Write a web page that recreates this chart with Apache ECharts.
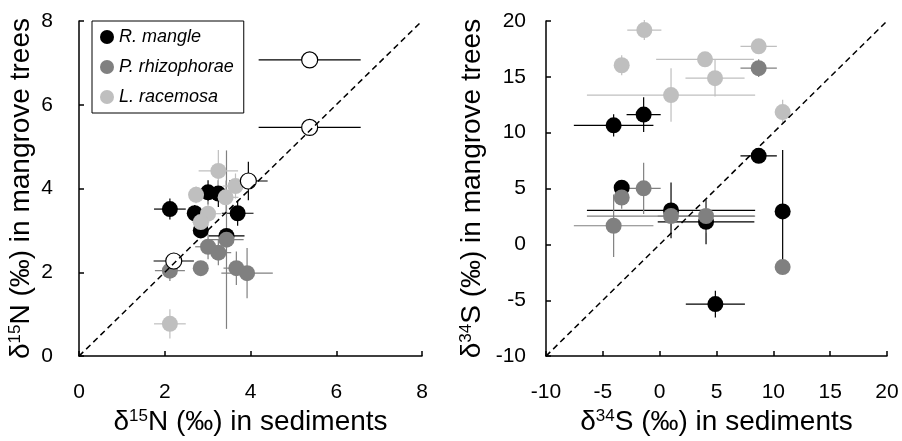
<!DOCTYPE html>
<html><head><meta charset="utf-8">
<script src="https://cdn.jsdelivr.net/npm/echarts@6/dist/echarts.min.js"></script>
<style>html,body{margin:0;padding:0;background:#fff}#c{width:902px;height:441px}</style>
</head><body><div id="c"></div>
<script>
// ---------- data ----------
const speciesNames = ['R. mangle', 'P. rhizophorae', 'L. racemosa'];

// Left panel: δ15N sediments (x) vs mangrove trees (y)
const nMangleX    = [2.12, 2.70, 3.01, 3.25, 3.70, 2.84, 3.44];
const nMangleY    = [3.51, 3.41, 3.91, 3.88, 3.41, 3.00, 2.87];
const nMangleXerr = [0.37, 0.15, 0.15, 0.20, 0.37, 0.10, 0.42];
const nMangleYerr = [0.25, 0.20, 0.29, 0.32, 0.30, 0.15, 0.15];

const nRhizoX     = [2.12, 2.84, 3.01, 3.25, 3.44, 3.67, 3.92];
const nRhizoY     = [2.04, 2.10, 2.61, 2.47, 2.78, 2.10, 1.98];
const nRhizoXerr  = [0.35, 0.10, 0.30, 0.30, 0.40, 0.30, 0.60];
const nRhizoYerr  = [0.25, 0.10, 0.30, 0.30, 2.13, 0.40, 0.60];

const nRacemX     = [2.12, 2.73, 3.25, 3.01, 2.84, 3.42, 3.65];
const nRacemY     = [0.77, 3.85, 4.42, 3.40, 3.20, 3.79, 4.06];
const nRacemXerr  = [0.37, 0.15, 0.46, 0.30, 0.20, 0.30, 0.30];
const nRacemYerr  = [0.35, 0.20, 0.50, 0.30, 0.30, 0.40, 0.30];

const nOpenX      = [5.38, 5.38, 3.95, 2.21];
const nOpenY      = [7.07, 5.46, 4.18, 2.27];
const nOpenXerr   = [1.19, 1.19, 0.45, 0.47];
const nOpenYerr   = [0.00, 0.00, 0.46, 0.00];

// Right panel: δ34S sediments (x) vs mangrove trees (y)
const sMangleX    = [-4.05, -1.41, -3.34, 1.00, 4.08, 8.71, 10.82, 4.90];
const sMangleY    = [10.66, 11.62, 5.07, 3.04, 2.02, 7.93, 2.95, -5.34];
const sMangleXerr = [3.5, 1.5, 0.5, 7.4, 4.25, 1.6, 0.3, 2.6];
const sMangleYerr = [1.0, 1.55, 0.5, 2.5, 2.0, 0.5, 5.5, 1.2];

const sRhizoX     = [8.71, -3.34, -1.41, -4.05, 1.00, 4.08, 10.82];
const sRhizoY     = [15.78, 4.20, 5.02, 1.67, 2.54, 2.54, -2.03];
const sRhizoXerr  = [1.6, 0.4, 1.5, 3.5, 7.4, 4.25, 0.3];
const sRhizoYerr  = [0.8, 1.0, 2.3, 2.8, 0.5, 1.5, 0.5];

const sRacemX     = [-1.35, -3.34, 3.99, 4.87, 1.00, 8.71, 10.82];
const sRacemY     = [19.19, 16.04, 16.57, 14.88, 13.37, 17.73, 11.85];
const sRacemXerr  = [1.5, 0.3, 4.3, 2.6, 7.4, 1.6, 0.3];
const sRacemYerr  = [0.9, 0.9, 0.3, 1.65, 2.4, 0.4, 1.1];

const nTicks = [0, 8, 2];
const sTicks = [-10, 20, 5];

// ---------- build ----------
const COLORS = ['#000000', '#808080', '#bfbfbf'];
const FONT = 'Liberation Sans, Arial, sans-serif';

function zip(x, y, ex, ey) { return x.map((v, i) => [v, y[i], ex[i], ey[i]]); }

function errSeries(data, color, axisIdx) {
  return {
    type: 'custom', xAxisIndex: axisIdx, yAxisIndex: axisIdx, z: 2, silent: true,
    data: data,
    renderItem: function (params, api) {
      const x = api.value(0), y = api.value(1), ex = api.value(2), ey = api.value(3);
      const ch = [];
      const st = { stroke: color, lineWidth: 1.2 };
      if (ex > 0) {
        const a = api.coord([x - ex, y]), b = api.coord([x + ex, y]);
        ch.push({ type: 'line', shape: { x1: a[0], y1: a[1], x2: b[0], y2: b[1] }, style: st });
      }
      if (ey > 0) {
        const c = api.coord([x, y - ey]), d = api.coord([x, y + ey]);
        ch.push({ type: 'line', shape: { x1: c[0], y1: c[1], x2: d[0], y2: d[1] }, style: st });
      }
      return { type: 'group', children: ch };
    }
  };
}

function pts(name, data, color, axisIdx, z, open) {
  return {
    type: 'scatter', name: name, xAxisIndex: axisIdx, yAxisIndex: axisIdx, z: z,
    symbol: 'circle', symbolSize: 16,
    data: data.map(d => [d[0], d[1]]),
    itemStyle: open ? { color: '#ffffff', borderColor: '#000', borderWidth: 1.2, opacity: 1 }
                    : { color: color, opacity: 1 },
    emphasis: { disabled: true }
  };
}

function diag(t, axisIdx) {
  return {
    type: 'line', xAxisIndex: axisIdx, yAxisIndex: axisIdx, z: 10, silent: true,
    data: [[t[0], t[0]], [t[1], t[1]]], symbol: 'none',
    lineStyle: { color: '#000', width: 1.5, type: [6, 4] }
  };
}

const rich = {
  d: { fontSize: 28, fontFamily: FONT, color: '#000' },
  sup: { fontSize: 17, fontFamily: FONT, color: '#000', verticalAlign: 'top' }
};

function axis(t, gridIdx, name, gap, labelMargin) {
  return {
    type: 'value', gridIndex: gridIdx, min: t[0], max: t[1], interval: t[2],
    name: name, nameLocation: 'middle', nameGap: gap,
    nameTextStyle: { rich: rich, fontSize: 28, fontFamily: FONT, color: '#000' },
    axisLine: { show: true, onZero: false, lineStyle: { color: '#000', width: 1.5 } },
    axisTick: { show: true, inside: true, length: 5, lineStyle: { color: '#000', width: 1.5 } },
    axisLabel: { color: '#000', fontSize: 21, fontFamily: FONT, margin: labelMargin },
    splitLine: { show: false }
  };
}

const nData = [zip(nMangleX, nMangleY, nMangleXerr, nMangleYerr),
               zip(nRhizoX, nRhizoY, nRhizoXerr, nRhizoYerr),
               zip(nRacemX, nRacemY, nRacemXerr, nRacemYerr)];
const nOpen = zip(nOpenX, nOpenY, nOpenXerr, nOpenYerr);
const sData = [zip(sMangleX, sMangleY, sMangleXerr, sMangleYerr),
               zip(sRhizoX, sRhizoY, sRhizoXerr, sRhizoYerr),
               zip(sRacemX, sRacemY, sRacemXerr, sRacemYerr)];

const series = [];
nData.forEach((d, i) => series.push(errSeries(d, COLORS[i], 0)));
series.push(errSeries(nOpen, '#000', 0));
sData.forEach((d, i) => series.push(errSeries(d, COLORS[i], 1)));
nData.forEach((d, i) => series.push(pts(speciesNames[i], d, COLORS[i], 0, 3 + i)));
series.push(pts('open', nOpen, '#fff', 0, 7, true));
sData.forEach((d, i) => series.push(pts(speciesNames[i], d, COLORS[i], 1, 3 + i)));
series.push(diag(nTicks, 0));
series.push(diag(sTicks, 1));

const chart = echarts.init(document.getElementById('c'), null, { renderer: 'canvas' });
chart.setOption({
  animation: false,
  backgroundColor: '#fff',
  grid: [
    { left: 79, top: 21, width: 343, height: 340 },
    { left: 546, top: 21, width: 341, height: 343 }
  ],
  xAxis: [
    axis(nTicks, 0, '{d|δ}{sup|15}{d|N (‰) in sediments}', 42, 26),
    axis(sTicks, 1, '{d|δ}{sup|34}{d|S (‰) in sediments}', 42, 26)
  ],
  yAxis: [
    axis(nTicks, 0, '{d|δ}{sup|15}{d|N (‰) in mangrove trees}', 44, 26),
    axis(sTicks, 1, '{d|δ}{sup|34}{d|S (‰) in mangrove trees}', 60, 20)
  ],
  legend: {
    data: speciesNames, orient: 'vertical', left: 92, top: 21,
    width: 'auto', padding: [7, 10, 7, 8], itemGap: 12,
    itemWidth: 14, itemHeight: 14, icon: 'circle',
    borderColor: '#000', borderWidth: 1, selectedMode: false,
    textStyle: { fontSize: 18, fontStyle: 'italic', fontFamily: FONT, color: '#000' }
  },
  series: series
});
</script></body></html>
